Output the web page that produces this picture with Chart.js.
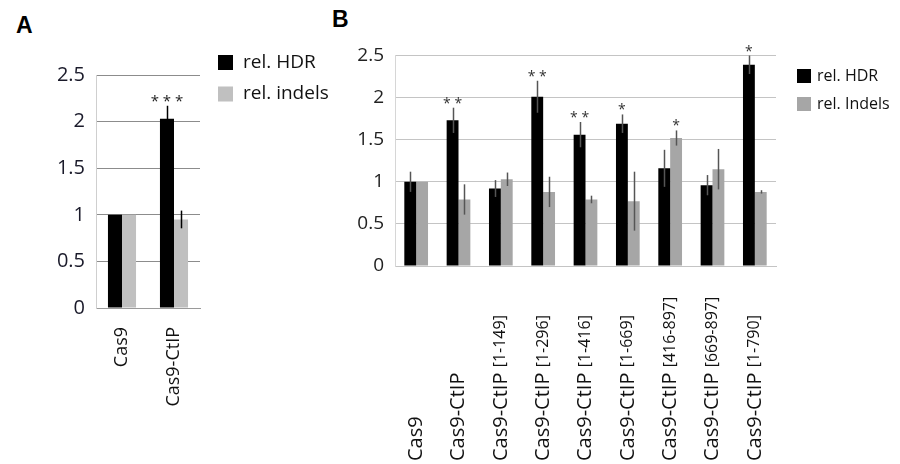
<!DOCTYPE html>
<html>
<head>
<meta charset="utf-8">
<script src="https://cdn.jsdelivr.net/npm/chart.js@4"></script>
<style>
  body { margin: 0; background: #fff; width: 900px; height: 464px; position: relative; overflow: hidden; }
  canvas { position: absolute; top: 0; }
  .panel { position: absolute; font: bold 23px "Liberation Sans", Arial, sans-serif; line-height: 23px; color: #000; }
</style>
</head>
<body>
<div class="panel" style="left:16px;top:14px">A</div>
<div class="panel" style="left:332px;top:8px">B</div>
<canvas id="chartA" width="340" height="464" style="left:0"></canvas>
<canvas id="chartB" width="560" height="464" style="left:340px"></canvas>
<script>
// ---------- panel A data ----------
const catsA = ["Cas9", "Cas9-CtIP"];
const hdrA = [1.0, 2.03];
const hdrErrA = [0, 0.14];
const hdrStarsA = ["", "* * *"];
const indelsA = [1.0, 0.95];
const indelsErrA = [0, 0.095];

// ---------- panel B data ----------
const catsB = ["Cas9", "Cas9-CtIP", "Cas9-CtIP [1-149]", "Cas9-CtIP [1-296]", "Cas9-CtIP [1-416]",
  "Cas9-CtIP [1-669]", "Cas9-CtIP [416-897]", "Cas9-CtIP [669-897]", "Cas9-CtIP [1-790]"];
const hdrB = [1.0, 1.73, 0.92, 2.01, 1.56, 1.69, 1.16, 0.96, 2.39];
const hdrErrB = [0.12, 0.15, 0.1, 0.19, 0.15, 0.11, 0.22, 0.12, 0.11];
const hdrStarsB = ["", "* *", "", "* *", "* *", "*", "", "", "*"];
const indelsB = [1.0, 0.79, 1.03, 0.88, 0.79, 0.77, 1.52, 1.15, 0.88];
const indelsErrB = [0, 0.18, 0.08, 0.18, 0.045, 0.35, 0.09, 0.24, 0.02];
const indelsStarsB = ["", "", "", "", "", "", "*", "", ""];

const yTicks = [0, 0.5, 1, 1.5, 2, 2.5];
const yTickLabels = ["0", "0.5", "1", "1.5", "2", "2.5"];

// error bars + significance stars on top of each bar
const errorBars = {
  id: "errorBars",
  afterDatasetsDraw(chart, args, opts) {
    const ctx = chart.ctx;
    const y = chart.scales.y;
    chart.data.datasets.forEach(function (ds, i) {
      chart.getDatasetMeta(i).data.forEach(function (bar, j) {
        const v = ds.data[j];
        const e = (ds.errors || [])[j] || 0;
        const top = y.getPixelForValue(v + e);
        const x = Math.round(bar.x) + 0.5;
        if (e) {
          ctx.save();
          ctx.strokeStyle = opts.color;
          ctx.lineWidth = opts.width;
          ctx.beginPath();
          ctx.moveTo(x, top);
          ctx.lineTo(x, y.getPixelForValue(v - e));
          ctx.stroke();
          ctx.restore();
        }
        const s = (ds.stars || [])[j];
        if (s) {
          ctx.save();
          ctx.fillStyle = opts.starColor;
          ctx.font = opts.starFont;
          ctx.textAlign = "center";
          ctx.textBaseline = "alphabetic";
          ctx.fillText(s, bar.x, top + opts.starOffset);
          ctx.restore();
        }
      });
    });
  }
};

// legend drawn as squares + text at fixed spot
const boxLegend = {
  id: "boxLegend",
  afterDraw(chart, args, o) {
    const ctx = chart.ctx;
    ctx.save();
    chart.data.datasets.forEach(function (ds, i) {
      const yy = o.y + i * o.row;
      ctx.fillStyle = ds.backgroundColor;
      ctx.fillRect(o.x, yy, o.box, o.box);
      ctx.fillStyle = o.color;
      ctx.font = o.font;
      ctx.textAlign = "left";
      ctx.textBaseline = "middle";
      ctx.fillText(ds.label, o.textX, yy + o.box / 2);
    });
    ctx.restore();
  }
};

// category labels for B: main name bigger, bracket part smaller, bottom aligned
const splitLabels = {
  id: "splitLabels",
  afterDraw(chart, args, o) {
    const ctx = chart.ctx;
    const xs = chart.scales.x;
    ctx.save();
    chart.data.labels.forEach(function (name, i) {
      const k = name.indexOf(" [");
      const main = k < 0 ? name : name.slice(0, k);
      const rest = k < 0 ? "" : name.slice(k + 1);
      ctx.save();
      ctx.translate(xs.getPixelForValue(i), o.bottom);
      ctx.rotate(-Math.PI / 2);
      ctx.fillStyle = o.color;
      ctx.textAlign = "left";
      ctx.textBaseline = "middle";
      ctx.font = o.font;
      ctx.fillText(main, 0, 0);
      if (rest) {
        const w = ctx.measureText(main + " ").width;
        ctx.font = o.smallFont;
        ctx.fillText(rest, w, 0);
      }
      ctx.restore();
    });
    ctx.restore();
  }
};

function setTicks(scale) {
  scale.ticks = yTicks.map(function (v) { return { value: v }; });
}
function tickText(v, i) {
  return yTickLabels[i];
}

// ---------- chart A ----------
new Chart(document.getElementById("chartA"), {
  type: "bar",
  data: {
    labels: catsA,
    datasets: [
      { label: "rel. HDR", data: hdrA, errors: hdrErrA, stars: hdrStarsA, backgroundColor: "#000000" },
      { label: "rel. indels", data: indelsA, errors: indelsErrA, backgroundColor: "#c0c0c0" }
    ]
  },
  options: {
    responsive: false,
    animation: false,
    layout: { padding: { left: 36, top: 75, right: 140, bottom: 36 } },
    datasets: { bar: { categoryPercentage: 0.54, barPercentage: 1.0 } },
    scales: {
      x: {
        grid: { display: false },
        border: { color: "#9a9a9a" },
        ticks: {
          autoSkip: false, minRotation: 90, maxRotation: 90, padding: 11,
          color: "#111", font: { family: "Open Sans", size: 18 }
        },
        afterFit: function (s) { s.height = 120; }
      },
      y: {
        min: 0, max: 2.5,
        afterBuildTicks: setTicks,
        grid: { color: "#8c8c8c", drawTicks: false },
        border: { color: "#cfcfcf" },
        ticks: { padding: 11, color: "#1a1a2a", font: { family: "Open Sans", size: 20 }, callback: tickText },
        afterFit: function (s) { s.width = 60; }
      }
    },
    plugins: {
      legend: { display: false },
      tooltip: { enabled: false },
      errorBars: { color: "#000", width: 1.5, starColor: "#222", starFont: '15px "Open Sans"', starOffset: 0 },
      boxLegend: { x: 218, y: 55, box: 15, row: 31.5, textX: 243, color: "#111", font: '19px "Open Sans"' }
    }
  },
  plugins: [errorBars, boxLegend]
});

// ---------- chart B ----------
new Chart(document.getElementById("chartB"), {
  type: "bar",
  data: {
    labels: catsB,
    datasets: [
      { label: "rel. HDR", data: hdrB, errors: hdrErrB, stars: hdrStarsB, backgroundColor: "#000000" },
      { label: "rel. Indels", data: indelsB, errors: indelsErrB, stars: indelsStarsB, backgroundColor: "#a6a6a6" }
    ]
  },
  options: {
    responsive: false,
    animation: false,
    layout: { padding: { left: 5, top: 55.5, right: 124, bottom: 48 } },
    datasets: { bar: { categoryPercentage: 0.56, barPercentage: 1.0 } },
    scales: {
      x: {
        grid: { display: false },
        border: { color: "#c4c4c4" },
        ticks: { display: false },
        afterFit: function (s) { s.height = 150; }
      },
      y: {
        min: 0, max: 2.5,
        afterBuildTicks: setTicks,
        grid: { color: "#c4c4c4", drawTicks: false },
        border: { color: "#d6d6d6" },
        ticks: { padding: 11, color: "#222", font: { family: "Open Sans", size: 19 }, callback: tickText },
        afterFit: function (s) { s.width = 50; }
      }
    },
    plugins: {
      legend: { display: false },
      tooltip: { enabled: false },
      errorBars: { color: "#555", width: 1.5, starColor: "#333", starFont: '14px "Open Sans"', starOffset: 0 },
      boxLegend: { x: 457, y: 69, box: 14, row: 28, textX: 477, color: "#111", font: '16px "Open Sans"' },
      splitLabels: { bottom: 461, color: "#111", font: '20px "Open Sans"', smallFont: '16px "Open Sans"' }
    }
  },
  plugins: [errorBars, boxLegend, splitLabels]
});
</script>
</body>
</html>
